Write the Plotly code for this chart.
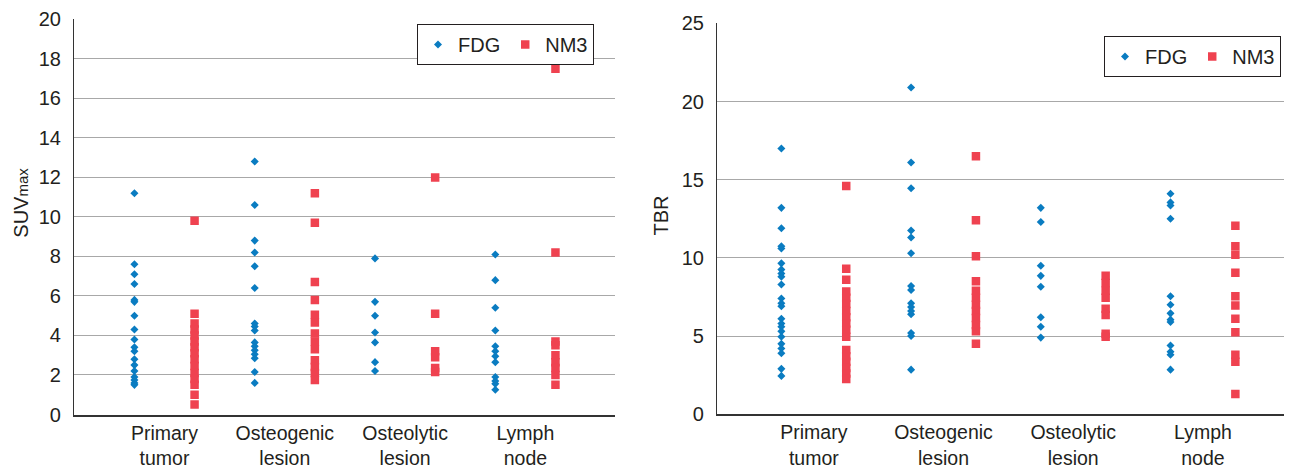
import plotly.graph_objects as go

categories = ["Primary<br>tumor", "Osteogenic<br>lesion", "Osteolytic<br>lesion", "Lymph<br>node"]

# SUVmax values (left panel)
suv_fdg_primary = [11.2, 7.6, 7.1, 6.6, 5.8, 5.7, 5.0, 4.3, 3.8, 3.4, 3.2, 2.8, 2.5, 2.2, 1.9, 1.75, 1.6, 1.5]
suv_nm3_primary = [9.8, 5.1, 4.6, 4.3, 4.0, 3.7, 3.4, 3.1, 2.8, 2.45, 2.1, 1.8, 1.5, 1.0, 0.5]
suv_fdg_osteogenic = [12.8, 10.6, 8.8, 8.2, 7.5, 6.4, 4.6, 4.45, 4.25, 3.65, 3.45, 3.25, 3.05, 2.85, 2.15, 1.6]
suv_nm3_osteogenic = [11.2, 9.7, 6.7, 5.8, 5.05, 4.65, 4.1, 3.7, 3.3, 2.75, 2.4, 2.1, 1.75]
suv_fdg_osteolytic = [7.9, 5.7, 5.0, 4.15, 3.65, 2.65, 2.2]
suv_nm3_osteolytic = [12.0, 5.1, 3.2, 2.9, 2.35, 2.15]
suv_fdg_lymph = [8.1, 6.8, 5.4, 4.25, 3.45, 3.2, 2.95, 2.65, 1.9, 1.7, 1.55, 1.25]
suv_nm3_lymph = [17.5, 8.2, 3.7, 3.5, 3.0, 2.65, 2.35, 2.0, 1.5]

# TBR values (right panel)
tbr_fdg_primary = [17.0, 13.2, 11.9, 10.75, 10.6, 9.65, 9.25, 9.0, 8.8, 8.3, 7.4, 7.1, 6.9, 6.1, 5.8, 5.6, 5.3, 4.95, 4.5, 4.2, 3.9, 2.9, 2.45]
tbr_nm3_primary = [14.6, 9.3, 8.6, 7.85, 7.45, 7.05, 6.6, 6.2, 5.8, 5.4, 4.95, 4.1, 3.7, 3.35, 2.95, 2.6, 2.25]
tbr_fdg_osteogenic = [20.9, 16.1, 14.45, 11.75, 11.3, 10.3, 8.2, 7.95, 7.1, 6.85, 6.6, 6.4, 5.2, 5.0, 2.85]
tbr_nm3_osteogenic = [16.5, 12.4, 10.1, 8.5, 7.9, 7.45, 7.0, 6.6, 6.15, 5.7, 5.3, 4.5]
tbr_fdg_osteolytic = [13.2, 12.3, 9.5, 8.85, 8.15, 6.2, 5.6, 4.9]
tbr_nm3_osteolytic = [8.85, 8.4, 7.9, 7.45, 6.75, 6.35, 5.15, 4.95]
tbr_fdg_lymph = [14.1, 13.55, 13.35, 12.5, 7.55, 7.0, 6.45, 6.05, 5.9, 4.4, 4.0, 3.8, 2.85]
tbr_nm3_lymph = [12.05, 10.75, 10.2, 9.05, 7.55, 6.95, 6.1, 5.25, 3.8, 3.35, 1.3]

suv_fdg = [suv_fdg_primary, suv_fdg_osteogenic, suv_fdg_osteolytic, suv_fdg_lymph]
suv_nm3 = [suv_nm3_primary, suv_nm3_osteogenic, suv_nm3_osteolytic, suv_nm3_lymph]
tbr_fdg = [tbr_fdg_primary, tbr_fdg_osteogenic, tbr_fdg_osteolytic, tbr_fdg_lymph]
tbr_nm3 = [tbr_nm3_primary, tbr_nm3_osteogenic, tbr_nm3_osteolytic, tbr_nm3_lymph]

FDG_COLOR = "#0a7cc1"
NM3_COLOR = "#ef4250"
TEXT = "#231f20"
W, H = 1290, 466
FONT = "Liberation Sans, Arial, sans-serif"


def flatten(groups, offset):
    xs, ys = [], []
    for i, g in enumerate(groups):
        for v in g:
            xs.append(i + 1 + offset)
            ys.append(v)
    return xs, ys


fig = go.Figure()

for groups, name, color, symbol, size, off, xa, ya, leg in [
    (suv_fdg, "FDG", FDG_COLOR, "diamond", 6.2, -0.25, "x", "y", "legend"),
    (suv_nm3, "NM3", NM3_COLOR, "square", 8.5, 0.25, "x", "y", "legend"),
    (tbr_fdg, "FDG", FDG_COLOR, "diamond", 6.2, -0.25, "x2", "y2", "legend2"),
    (tbr_nm3, "NM3", NM3_COLOR, "square", 8.5, 0.25, "x2", "y2", "legend2"),
]:
    xs, ys = flatten(groups, off)
    fig.add_trace(go.Scatter(
        x=xs, y=ys, mode="markers", name=name, xaxis=xa, yaxis=ya, legend=leg,
        marker=dict(symbol=symbol, size=size, color=color, line=dict(width=0)),
    ))

xfont = dict(family=FONT, size=19.5, color=TEXT)
yfont = dict(family=FONT, size=20, color=TEXT)
grid = "#a8a8a8"

xcommon = dict(
    tickmode="array", tickvals=[1, 2, 3, 4], ticktext=categories,
    showgrid=False, zeroline=False, showline=True, linecolor="#333333", linewidth=1.5,
    ticks="", tickfont=xfont, fixedrange=True, automargin=False,
)
ycommon = dict(
    showgrid=True, gridcolor=grid, gridwidth=1, zeroline=False,
    showline=True, linecolor="#333333", linewidth=1.2, ticks="outside", ticklen=8,
    tickcolor="rgba(0,0,0,0)", tickfont=yfont, fixedrange=True, automargin=False,
)

legend_common = dict(
    orientation="h", xanchor="right", yanchor="top",
    bordercolor=TEXT, borderwidth=1, bgcolor="white",
    font=dict(family=FONT, size=20, color=TEXT),
    itemwidth=30, tracegroupgap=0,
)

fig.update_layout(
    width=W, height=H,
    margin=dict(l=0, r=0, t=0, b=0, autoexpand=False),
    paper_bgcolor="white", plot_bgcolor="white",
    font=dict(family=FONT, color=TEXT),
    xaxis=dict(domain=[74 / W, 615 / W], range=[0.2477, 4.745], anchor="y", **xcommon),
    yaxis=dict(domain=[(H - 414.5) / H, (H - 19.3) / H], range=[0, 20], dtick=2, anchor="x", **ycommon),
    xaxis2=dict(domain=[717 / W, 1284 / W], range=[0.2537, 4.625], anchor="y2", **xcommon),
    yaxis2=dict(domain=[(H - 414.2) / H, (H - 23.4) / H], range=[0, 25], dtick=5, anchor="x2", **ycommon),
    legend=dict(x=594 / W, y=1 - 24 / H, **legend_common),
    legend2=dict(x=1281 / W, y=1 - 36 / H, **legend_common),
    annotations=[
        dict(text="SUV<span style='font-size:15px'>max</span>", textangle=-90,
             x=20.7 / W, y=1 - 203 / H, xref="paper", yref="paper",
             xanchor="center", yanchor="middle",
             showarrow=False, font=dict(family=FONT, size=20, color=TEXT)),
        dict(text="TBR", textangle=-90,
             x=660.5 / W, y=1 - 215 / H, xref="paper", yref="paper",
             xanchor="center", yanchor="middle",
             showarrow=False, font=dict(family=FONT, size=20, color=TEXT)),
    ],
)

fig.write_html(
    "out.html",
    config={"displayModeBar": False},
    post_script="document.body.style.margin='0';document.body.style.padding='0';",
)
